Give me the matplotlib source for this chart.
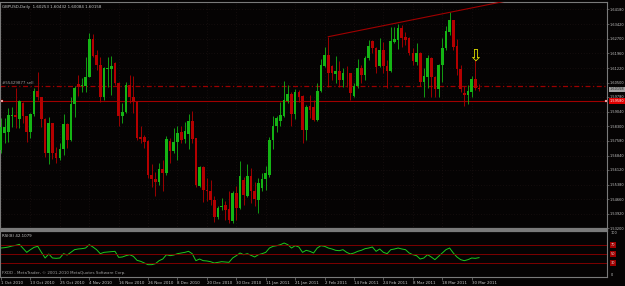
import matplotlib.pyplot as plt
from matplotlib import font_manager
from matplotlib.transforms import blended_transform_factory

# GBPUSD daily candles (bar 0 = 1 Oct 2010)
opens = [1.5712, 1.5796, 1.5804, 1.5880, 1.5888, 1.5868, 1.5946, 1.5880, 1.5804, 1.5891,
         1.6008, 1.5976, 1.5869, 1.5699, 1.5846, 1.5699, 1.5674, 1.5717, 1.5841, 1.5762,
         1.5943, 1.6041, 1.6033, 1.6035, 1.6080, 1.6267, 1.6188, 1.6138, 1.5979, 1.6117,
         1.6117, 1.6147, 1.6050, 1.5880, 1.5901, 1.6038, 1.5979, 1.5954, 1.5776, 1.5776,
         1.5757, 1.5587, 1.5565, 1.5554, 1.5615, 1.5595, 1.5757, 1.5709, 1.5754, 1.5802,
         1.5766, 1.5793, 1.5859, 1.5771, 1.5534, 1.5629, 1.5512, 1.5504, 1.5462, 1.5378,
         1.5424, 1.5437, 1.5415, 1.5358, 1.5495, 1.5420, 1.5562, 1.5479, 1.5582, 1.5509,
         1.5462, 1.5520, 1.5565, 1.5587, 1.5762, 1.5833, 1.5858, 1.5883, 1.5959, 1.5993,
         1.5893, 1.6004, 1.5983, 1.5813, 1.5933, 1.5929, 1.5862, 1.6010, 1.6133, 1.6188,
         1.6133, 1.6093, 1.6110, 1.6063, 1.6100, 1.6100, 1.5983, 1.6033, 1.6121, 1.6088,
         1.6171, 1.6258, 1.6225, 1.6133, 1.6213, 1.6133, 1.6110, 1.6255, 1.6264, 1.6322,
         1.6280, 1.6272, 1.6200, 1.6155, 1.6200, 1.6055, 1.6076, 1.6171, 1.6080, 1.6016,
         1.6138, 1.6222, 1.6305, 1.6364, 1.6233, 1.6116, 1.6000, 1.5988, 1.6005, 1.6066,
         1.60253]
highs = [1.5871, 1.5871, 1.5921, 1.5929, 1.6021, 1.5963, 1.5954, 1.5880, 1.5899, 1.6021,
         1.6105, 1.5976, 1.5873, 1.5876, 1.5846, 1.5729, 1.5746, 1.5893, 1.5846, 1.5976,
         1.6033, 1.6088, 1.6071, 1.6177, 1.6297, 1.6293, 1.6213, 1.6180, 1.6130, 1.6177,
         1.6183, 1.6155, 1.6055, 1.5946, 1.6055, 1.6088, 1.6083, 1.5958, 1.5833, 1.5788,
         1.5762, 1.5642, 1.5604, 1.5645, 1.5662, 1.5783, 1.5771, 1.5821, 1.5833, 1.5833,
         1.5854, 1.5893, 1.5908, 1.5771, 1.5632, 1.5632, 1.5570, 1.5562, 1.5482, 1.5432,
         1.5470, 1.5454, 1.5504, 1.5507, 1.5532, 1.5659, 1.5579, 1.5642, 1.5620, 1.5554,
         1.5570, 1.5599, 1.5632, 1.5779, 1.5880, 1.5883, 1.5954, 1.6058, 1.6038, 1.6004,
         1.6016, 1.6013, 1.5988, 1.5938, 1.5988, 1.5963, 1.6050, 1.6166, 1.6230, 1.6280,
         1.6138, 1.6183, 1.6160, 1.6121, 1.6133, 1.6100, 1.6046, 1.6166, 1.6138, 1.6183,
         1.6264, 1.6262, 1.6230, 1.6272, 1.6255, 1.6163, 1.6327, 1.6330, 1.6344, 1.6339,
         1.6305, 1.6280, 1.6222, 1.6247, 1.6205, 1.6121, 1.6188, 1.6177, 1.6083, 1.6143,
         1.6272, 1.6334, 1.6402, 1.6366, 1.6267, 1.6138, 1.6033, 1.6038, 1.6083, 1.6163,
         1.60432]
lows = [1.5696, 1.5746, 1.5754, 1.5829, 1.5821, 1.5821, 1.5846, 1.5754, 1.5771, 1.5880,
        1.5963, 1.5829, 1.5676, 1.5642, 1.5666, 1.5649, 1.5662, 1.5687, 1.5724, 1.5755,
        1.5875, 1.5983, 1.6004, 1.6004, 1.6077, 1.6177, 1.6113, 1.5954, 1.5963, 1.6030,
        1.5988, 1.6038, 1.5833, 1.5849, 1.5896, 1.5946, 1.5896, 1.5762, 1.5746, 1.5721,
        1.5570, 1.5529, 1.5479, 1.5537, 1.5507, 1.5587, 1.5649, 1.5699, 1.5662, 1.5746,
        1.5746, 1.5716, 1.5746, 1.5529, 1.5529, 1.5449, 1.5454, 1.5437, 1.5353, 1.5365,
        1.5412, 1.5362, 1.5345, 1.5345, 1.5362, 1.5415, 1.5437, 1.5475, 1.5445, 1.5429,
        1.5398, 1.5507, 1.5512, 1.5579, 1.5716, 1.5804, 1.5833, 1.5876, 1.5946, 1.5833,
        1.5866, 1.5954, 1.5746, 1.5762, 1.5871, 1.5855, 1.5855, 1.6005, 1.6130, 1.6030,
        1.6063, 1.6046, 1.6030, 1.6026, 1.6030, 1.5963, 1.5980, 1.6021, 1.6046, 1.6063,
        1.6163, 1.6197, 1.6100, 1.6130, 1.6100, 1.6021, 1.6105, 1.6250, 1.6217, 1.6230,
        1.6238, 1.6188, 1.6138, 1.6138, 1.6033, 1.5980, 1.6021, 1.5980, 1.5980, 1.5976,
        1.6055, 1.6213, 1.6288, 1.6213, 1.6088, 1.6005, 1.5933, 1.5943, 1.5976, 1.6013,
        1.60084]
closes = [1.5829, 1.5829, 1.5888, 1.5888, 1.5876, 1.5958, 1.5880, 1.5804, 1.5891, 1.6008,
          1.5976, 1.5869, 1.5699, 1.5846, 1.5699, 1.5674, 1.5717, 1.5841, 1.5762, 1.5943,
          1.6021, 1.6030, 1.6038, 1.6080, 1.6268, 1.6183, 1.6138, 1.5979, 1.6122, 1.6122,
          1.6133, 1.6046, 1.5880, 1.5901, 1.6038, 1.5979, 1.5954, 1.5771, 1.5766, 1.5754,
          1.5587, 1.5565, 1.5554, 1.5615, 1.5595, 1.5766, 1.5709, 1.5754, 1.5799, 1.5762,
          1.5808, 1.5859, 1.5769, 1.5537, 1.5629, 1.5512, 1.5504, 1.5462, 1.5378, 1.5420,
          1.5429, 1.5412, 1.5362, 1.5495, 1.5420, 1.5582, 1.5484, 1.5582, 1.5509, 1.5465,
          1.5545, 1.5565, 1.5595, 1.5762, 1.5833, 1.5871, 1.5885, 1.5963, 1.5993, 1.5893,
          1.6004, 1.5979, 1.5813, 1.5929, 1.5913, 1.5862, 1.6010, 1.6138, 1.6188, 1.6096,
          1.6096, 1.6110, 1.6063, 1.6100, 1.6096, 1.6000, 1.6033, 1.6121, 1.6088, 1.6171,
          1.6233, 1.6225, 1.6130, 1.6213, 1.6133, 1.6110, 1.6258, 1.6267, 1.6322, 1.6275,
          1.6264, 1.6200, 1.6160, 1.6200, 1.6055, 1.6083, 1.6171, 1.6080, 1.6016, 1.6138,
          1.6222, 1.6309, 1.6364, 1.6230, 1.6116, 1.6016, 1.5988, 1.6010, 1.6066, 1.6021,
          1.60158]

rsi = [63.0, 63.8, 65.2, 67.4, 68.8, 71.0, 62.3, 53.6, 59.4, 64.5,
       66.7, 53.6, 41.3, 50.0, 41.3, 40.6, 41.3, 50.7, 47.8, 53.6,
       59.4, 60.9, 61.6, 63.0, 70.3, 65.2, 59.4, 50.7, 53.6, 54.3,
       55.1, 55.8, 42.7, 43.5, 46.4, 48.5, 44.9, 36.2, 34.0, 30.4,
       26.8, 26.8, 29.0, 35.5, 39.1, 48.5, 46.4, 47.8, 50.7, 52.2,
       53.6, 55.8, 50.7, 35.5, 39.1, 35.5, 34.8, 33.3, 30.4, 31.9,
       33.3, 32.6, 31.9, 41.3, 46.4, 52.2, 48.5, 50.7, 47.1, 43.5,
       48.5, 50.7, 53.6, 63.0, 66.7, 68.1, 70.3, 73.9, 70.3, 63.0,
       68.1, 65.2, 53.6, 58.0, 55.8, 52.2, 63.0, 68.1, 66.7, 63.0,
       60.9, 58.0, 57.2, 59.4, 53.6, 50.0, 52.2, 55.8, 58.0, 61.6,
       63.0, 65.2, 55.8, 60.9, 53.6, 50.7, 59.4, 60.9, 63.0, 60.9,
       59.4, 52.2, 48.5, 46.4, 39.1, 41.3, 48.5, 43.5, 37.7, 44.9,
       52.2, 59.4, 63.0, 52.2, 43.5, 37.7, 35.5, 37.7, 41.3, 40.6,
       42.1]

date_labels = ["1 Oct 2010", "13 Oct 2010", "25 Oct 2010", "4 Nov 2010", "16 Nov 2010",
               "26 Nov 2010", "8 Dec 2010", "20 Dec 2010", "30 Dec 2010", "11 Jan 2011",
               "21 Jan 2011", "2 Feb 2011", "14 Feb 2011", "24 Feb 2011", "8 Mar 2011",
               "18 Mar 2011", "30 Mar 2011"]
price_ticks = [1.53200, 1.53920, 1.54660, 1.55380, 1.56120, 1.56840, 1.57580, 1.58300,
               1.59040, 1.59780, 1.60500, 1.61220, 1.61960, 1.62700, 1.63420, 1.64180]
rsi_levels = [70, 50, 30]

chart_title = "GBPUSD,Daily  1.60253 1.60432 1.60084 1.60158"
rsi_title = "RSI(8) 42.1079"
footer = "FXDD - MetaTrader, \u00a9 2001-2010 MetaQuotes Software Corp."
order_label = "#55429877 sell"
order_price = 1.6033
hline_price = 1.5958
trend_bars = [89, 122]   # trend line through these two highs
arrow_bar = 129
arrow_price = 1.6228

# small condensed font, like the MT4 terminal
names = {f.name for f in font_manager.fontManager.ttflist}
if "Liberation Sans Narrow" in names:
    FONT, FS = "Liberation Sans Narrow", 3.9
else:
    FONT, FS = "DejaVu Sans", 2.9
FS_AX = FS * 0.88   # right-hand scale, must fit in the 18 px strip
plt.rcParams["font.family"] = [FONT, "DejaVu Sans"]

BG = "#050303"
FG = "#c8c8c8"
GRAY = "#7a7a7a"
BULL = "#14b414"
BEAR = "#b40000"

fig = plt.figure(figsize=(6.25, 2.86), dpi=100, facecolor=BG)
ax = fig.add_axes([0, 57 / 286, 607 / 625, 227 / 286], facecolor=BG)
axr = fig.add_axes([0, 9 / 286, 607 / 625, 46 / 286], facecolor=BG, sharex=ax)

n = len(closes)
xs = list(range(n))

# grid
for p in price_ticks:
    ax.axhline(p, color="#221717", lw=0.5, ls=(0, (1, 3)), zorder=0)
for k in range(len(date_labels)):
    ax.axvline(k * 8, color="#221717", lw=0.5, ls=(0, (1, 3)), zorder=0)

# candles
for i in xs:
    o, h, l, c = opens[i], highs[i], lows[i], closes[i]
    col = BULL if c >= o else BEAR
    ax.vlines(i, l, h, color=col, lw=0.6, zorder=2)
    body = max(abs(c - o), 0.00012)
    ax.bar(i, body, bottom=min(o, c), width=0.72, color=col, lw=0, zorder=3)

# horizontal objects
ax.axhline(order_price, color="#9a0000", lw=0.9, ls=(0, (4, 2, 1, 2)), zorder=1)
ax.axhline(hline_price, color="#a00000", lw=0.8, zorder=1)
ax.plot([0.004, 0.998], [hline_price, hline_price], ls="none", marker="s", ms=1.6,
        mfc="white", mec="#c00000", mew=0.3, transform=blended_transform_factory(ax.transAxes, ax.transData), zorder=5)
ax.text(0.4, order_price + 0.0007, order_label, color="#9a9a9a", fontsize=FS, ha="left", va="bottom")

# trend line through two highs, extended right
x0, x1 = trend_bars
slope = (highs[x1] - highs[x0]) / (x1 - x0)
x_end = 170
ax.plot([x0, x_end], [highs[x0], highs[x0] + slope * (x_end - x0)], color="#a00000", lw=0.8, zorder=4)

# arrow object
ax.text(arrow_bar, arrow_price, "\u21e9", color="#e6e600", fontsize=12, ha="center", va="top",
        family="DejaVu Sans", zorder=6)

ax.set_xlim(-0.27, 164.8)
ax.set_ylim(1.5316, 1.6454)

# right price scale
ax.yaxis.tick_right()
ax.set_yticks(price_ticks)
ax.set_yticklabels([f"{p:.5f}" for p in price_ticks])
ax.tick_params(axis="y", length=1.5, width=0.5, color=GRAY, labelsize=FS_AX, labelcolor=FG, pad=0.6)
ax.tick_params(axis="x", bottom=False, labelbottom=False)
for s in ax.spines.values():
    s.set_color(GRAY)
    s.set_linewidth(0.8)
ax.spines["bottom"].set_linewidth(1.6)

yt = blended_transform_factory(ax.transAxes, ax.transData)
ax.text(1.004, hline_price, f"{hline_price:.5f}", transform=yt, color="white", fontsize=FS_AX,
        ha="left", va="center", bbox=dict(boxstyle="square,pad=0.2", fc="#e00000", ec="none"), zorder=7)
ax.text(1.004, closes[-1], f"{closes[-1]:.5f}", transform=yt, color="#202020", fontsize=FS_AX,
        ha="left", va="center", bbox=dict(boxstyle="square,pad=0.2", fc="#a0a0a0", ec="none"), zorder=7)

ax.text(0.004, 0.985, chart_title, transform=ax.transAxes, color=FG, fontsize=FS, ha="left", va="top")

# RSI panel
axr.plot(xs, rsi, color="#1ec81e", lw=0.7)
for lv in rsi_levels:
    axr.axhline(lv, color="#900000", lw=0.6)
axr.set_ylim(0, 100)
axr.set_yticks([])
for s in axr.spines.values():
    s.set_color(GRAY)
    s.set_linewidth(0.8)
axr.spines["top"].set_linewidth(1.6)
rt = blended_transform_factory(axr.transAxes, axr.transData)
axr.text(1.006, 99, "100", transform=rt, color=FG, fontsize=FS_AX, ha="left", va="top")
axr.text(1.006, 1, "0", transform=rt, color=FG, fontsize=FS_AX, ha="left", va="bottom")
for lv in rsi_levels:
    axr.text(1.006, lv, str(lv), transform=rt, color="#e0e0e0", fontsize=FS_AX, ha="left", va="center",
             bbox=dict(boxstyle="square,pad=0.2", fc="#a00000", ec="none"))
axr.text(0.004, 0.93, rsi_title, transform=axr.transAxes, color=FG, fontsize=FS, ha="left", va="top")
axr.text(0.004, 0.04, footer, transform=axr.transAxes, color="#a0a0a0", fontsize=FS, ha="left", va="bottom")

axr.set_xticks([k * 8 for k in range(len(date_labels))])
axr.set_xticklabels(date_labels)
axr.tick_params(axis="x", length=2, width=0.5, color=GRAY, labelsize=FS, labelcolor=FG, pad=0.8)
for t in axr.get_xticklabels():
    t.set_horizontalalignment("left")

fig.savefig("out.png", dpi=100, facecolor=BG)
